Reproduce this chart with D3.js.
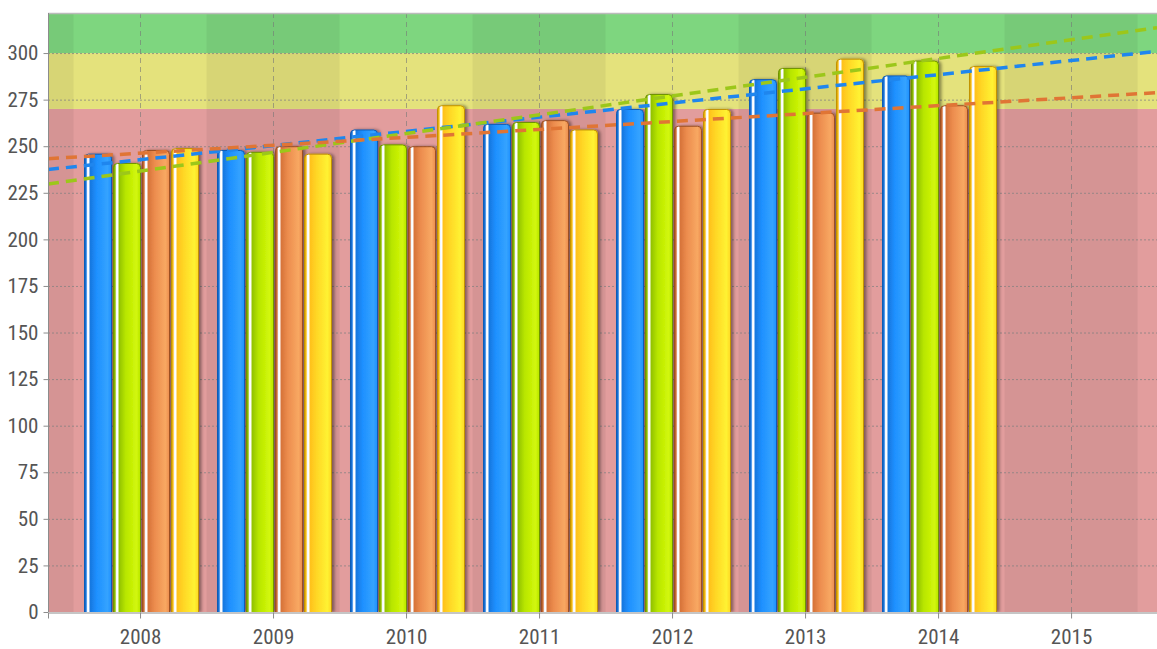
<!DOCTYPE html>
<html lang="en">
<head>
<meta charset="UTF-8">
<title>Chart</title>
<script src="https://d3js.org/d3.v7.min.js"></script>
<style>
    html, body { margin: 0; padding: 0; background: #fff; }
    svg text { font-family: "Liberation Sans Narrow", "Roboto Condensed", "DejaVu Sans Condensed", sans-serif; fill: #555; }
</style>
</head>
<body>
<div id="chart"></div>
<script>
    // data
    var years = [2008, 2009, 2010, 2011, 2012, 2013, 2014];
    var axisYears = [2008, 2009, 2010, 2011, 2012, 2013, 2014, 2015];
    var seriesNames = ["blue", "green", "orange", "yellow"];
    var blueValues = [246, 248, 259, 262, 270, 286, 288];
    var greenValues = [241, 247, 251, 263, 278, 292, 296];
    var orangeValues = [248, 250, 250, 264, 261, 268, 272];
    var yellowValues = [249, 246, 272, 259, 270, 297, 293];
    var yTicks = d3.range(0, 301, 25);
    var bands = [
        { from: 0, to: 270, color: "#e29d9d" },
        { from: 270, to: 300, color: "#e4e27c" },
        { from: 300, to: 400, color: "#7ed67f" }
    ];
    var trendSeries = ["blue", "green", "orange"];

    var values = { blue: blueValues, green: greenValues, orange: orangeValues, yellow: yellowValues };
    var palette = {
        blue:   { edge: "#0e5bb5", dark: "#1778e0", mid: "#1e90ff", light: "#35a3ff", trend: "#1f86ee" },
        green:  { edge: "#6f9300", dark: "#94c400", mid: "#b8e600", light: "#d2f70a", trend: "#9cc71a" },
        orange: { edge: "#9c4f22", dark: "#d7743a", mid: "#ec8c4e", light: "#f8a862", trend: "#e07535" },
        yellow: { edge: "#c29300", dark: "#ffc21c", mid: "#ffd726", light: "#fff232", trend: "#e0c000" }
    };

    var width = 1157, height = 649;
    var margin = { top: 13, right: 0, bottom: 37, left: 48 };

    var svg = d3.select("#chart").append("svg")
        .attr("width", width)
        .attr("height", height);

    var x = d3.scaleLinear()
        .domain([2007.308, 2015.646])
        .range([margin.left, width - margin.right]);
    var y = d3.scaleLinear()
        .domain([0, 321.5])
        .range([height - margin.bottom, margin.top]);
    var step = x(2009) - x(2008);
    var inner = d3.scaleBand()
        .domain(seriesNames)
        .range([-56, 58])
        .paddingInner(0.06);

    var defs = svg.append("defs");
    defs.append("clipPath").attr("id", "plot")
        .append("rect")
        .attr("x", margin.left).attr("y", margin.top)
        .attr("width", width - margin.left - margin.right)
        .attr("height", y(0) - margin.top);

    seriesNames.forEach(function (s) {
        var c = palette[s];
        var g = defs.append("linearGradient").attr("id", "grad-" + s)
            .attr("x1", "0%").attr("x2", "100%").attr("y1", "0%").attr("y2", "0%");
        [[0, c.edge], [0.06, c.dark], [0.11, "#f4f8ff"], [0.15, "#ffffff"], [0.22, c.dark],
         [0.45, c.mid], [0.85, c.light], [1, c.mid]].forEach(function (st) {
            g.append("stop").attr("offset", st[0]).attr("stop-color", st[1]);
        });
    });

    var shadow = defs.append("filter").attr("id", "shadow")
        .attr("x", "-20%").attr("y", "-5%").attr("width", "150%").attr("height", "110%");
    shadow.append("feDropShadow")
        .attr("dx", 2.5).attr("dy", 0).attr("stdDeviation", 1.5)
        .attr("flood-color", "#000").attr("flood-opacity", 0.4);

    var plot = svg.append("g").attr("clip-path", "url(#plot)");

    // colour bands
    plot.selectAll(".band")
        .data(bands)
        .enter().append("rect")
        .attr("x", margin.left)
        .attr("width", width - margin.left)
        .attr("y", function (d) { return y(d.to); })
        .attr("height", function (d) { return y(d.from) - y(d.to); })
        .attr("fill", function (d) { return d.color; });

    // alternating column shading
    var stripeYears = d3.range(2007, 2016).filter(function (yr) { return yr % 2 === 1; });
    plot.selectAll(".stripe")
        .data(stripeYears)
        .enter().append("rect")
        .attr("x", function (d) { return x(d) - step / 2; })
        .attr("width", step)
        .attr("y", margin.top)
        .attr("height", y(0) - margin.top)
        .attr("fill", "#000")
        .attr("fill-opacity", 0.055);

    // grid
    plot.selectAll(".hgrid")
        .data(yTicks.filter(function (d) { return d > 0; }))
        .enter().append("line")
        .attr("x1", margin.left).attr("x2", width)
        .attr("y1", function (d) { return y(d) + 0.5; })
        .attr("y2", function (d) { return y(d) + 0.5; })
        .attr("stroke", "#808080").attr("stroke-opacity", 0.75)
        .attr("stroke-dasharray", "2,2");
    plot.selectAll(".vgrid")
        .data(axisYears)
        .enter().append("line")
        .attr("x1", function (d) { return Math.round(x(d)) + 0.5; })
        .attr("x2", function (d) { return Math.round(x(d)) + 0.5; })
        .attr("y1", margin.top).attr("y2", y(0))
        .attr("stroke", "#777").attr("stroke-opacity", 0.6)
        .attr("stroke-dasharray", "5,4");

    // bars
    var barData = [];
    years.forEach(function (yr, i) {
        seriesNames.forEach(function (s) {
            barData.push({ year: yr, series: s, value: values[s][i] });
        });
    });
    var r = 4;
    plot.selectAll(".bar")
        .data(barData)
        .enter().append("path")
        .attr("class", "bar")
        .attr("filter", "url(#shadow)")
        .attr("fill", function (d) { return "url(#grad-" + d.series + ")"; })
        .attr("stroke", function (d) { return palette[d.series].edge; })
        .attr("stroke-width", 1)
        .attr("d", function (d) {
            var x0 = Math.round(x(d.year) + inner(d.series)) + 0.5;
            var w = Math.round(inner.bandwidth());
            var y0 = y(d.value) + 0.5, y1 = y(0);
            return "M" + x0 + "," + y1 + "V" + (y0 + r) +
                "Q" + x0 + "," + y0 + " " + (x0 + r) + "," + y0 +
                "H" + (x0 + w - r) +
                "Q" + (x0 + w) + "," + y0 + " " + (x0 + w) + "," + (y0 + r) +
                "V" + y1;
        });

    // linear trend lines
    function regression(vals) {
        var mx = d3.mean(years), my = d3.mean(vals);
        var num = d3.sum(years, function (yr, i) { return (yr - mx) * (vals[i] - my); });
        var den = d3.sum(years, function (yr) { return (yr - mx) * (yr - mx); });
        var b = num / den;
        return function (t) { return my + b * (t - mx); };
    }
    var xEnds = x.domain();
    plot.selectAll(".trend")
        .data(trendSeries)
        .enter().append("line")
        .attr("x1", x(xEnds[0])).attr("x2", x(xEnds[1]))
        .attr("y1", function (s) { return y(regression(values[s])(xEnds[0])); })
        .attr("y2", function (s) { return y(regression(values[s])(xEnds[1])); })
        .attr("stroke", function (s) { return palette[s].trend; })
        .attr("stroke-width", 3.5)
        .attr("stroke-dasharray", "11,7");

    // frame
    svg.append("line")
        .attr("x1", margin.left).attr("x2", width)
        .attr("y1", margin.top + 0.5).attr("y2", margin.top + 0.5)
        .attr("stroke", "#bbb").attr("stroke-width", 1.5);

    // axes
    var yAxis = d3.axisLeft(y).tickValues(yTicks).tickSize(5).tickPadding(5);
    var gy = svg.append("g")
        .attr("transform", "translate(" + (margin.left + 0.5) + ",0)")
        .call(yAxis);
    var xAxis = d3.axisBottom(x).tickValues(axisYears).tickFormat(d3.format("d")).tickSize(6).tickPadding(11);
    var gx = svg.append("g")
        .attr("transform", "translate(0," + (y(0) + 0.5) + ")")
        .call(xAxis);
    [gx, gy].forEach(function (g) {
        g.select(".domain").attr("stroke", "#8c8c8c");
        g.selectAll(".tick line").attr("stroke", "#8c8c8c");
        g.selectAll(".tick text").attr("font-size", 21).style("fill", "#555");
    });
    gy.select(".domain").attr("d", "M0," + margin.top + "V" + y(0));
</script>
</body>
</html>
